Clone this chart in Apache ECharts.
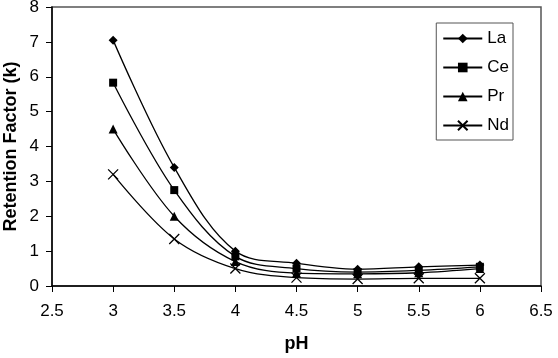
<!DOCTYPE html>
<html>
<head>
<meta charset="utf-8">
<script src="https://cdn.jsdelivr.net/npm/echarts@6/dist/echarts.min.js"></script>
<style>
html,body{margin:0;padding:0;background:#fff;}
#chart{width:558px;height:358px;}
</style>
</head>
<body>
<div id="chart"></div>
<script>
// data
var phValues = [3, 3.5, 4, 4.5, 5, 5.5, 6];
var seriesNames = ['La', 'Ce', 'Pr', 'Nd'];
var laValues = [7.05, 3.4, 1.0, 0.65, 0.48, 0.55, 0.6];
var ceValues = [5.83, 2.75, 0.85, 0.5, 0.4, 0.45, 0.55];
var prValues = [4.5, 2.0, 0.7, 0.37, 0.35, 0.38, 0.5];
var ndValues = [3.2, 1.35, 0.5, 0.24, 0.2, 0.22, 0.22];

var allValues = [laValues, ceValues, prValues, ndValues];
var symbols = ['diamond', 'rect', 'triangle', 'path://M0,0L10,10M10,0L0,10'];
var symbolSizes = [9, 8, 9, 10];

var chart = echarts.init(document.getElementById('chart'));

var series = [];
for (var i = 0; i < seriesNames.length; i++) {
	var pts = [];
	for (var j = 0; j < phValues.length; j++) {
		pts.push([phValues[j], allValues[i][j]]);
	}
	var isCross = i == 3;
	series.push({
		name: seriesNames[i],
		type: 'line',
		smooth: 0.35,
		data: pts,
		symbol: symbols[i],
		symbolSize: symbolSizes[i],
		showAllSymbol: true,
		lineStyle: {color: '#000', width: 1.3},
		itemStyle: isCross ? {color: 'none', borderColor: '#000', borderWidth: 1.3} : {color: '#000', borderColor: '#000', borderWidth: 0},
		emphasis: {disabled: true}
	});
}

var option = {
	animation: false,
	textStyle: {fontFamily: 'Liberation Sans, Arial, sans-serif'},
	grid: {
		show: true,
		left: 52,
		right: 17,
		top: 7,
		bottom: 72,
		containLabel: false,
		outerBoundsMode: 'none',
		borderColor: '#555',
		borderWidth: 1.5
	},
	legend: {
		orient: 'vertical',
		right: 45,
		top: 23,
		itemGap: 12,
		itemWidth: 39,
		itemHeight: 12,
		padding: [7, 4, 6, 6],
		borderColor: '#555',
		borderWidth: 1,
		textStyle: {color: '#000', fontSize: 17, padding: [0, 0, 0, 0]},
		data: seriesNames
	},
	xAxis: {
		type: 'value',
		min: 2.5,
		max: 6.5,
		interval: 0.5,
		name: 'pH',
		nameLocation: 'middle',
		nameGap: 49,
		nameMoveOverlap: false,
		nameTextStyle: {color: '#000', fontSize: 18, fontWeight: 'bold'},
		axisLine: {lineStyle: {color: '#000', width: 1.5}},
		axisTick: {show: true, length: 6, lineStyle: {color: '#000'}},
		axisLabel: {color: '#000', fontSize: 17, margin: 17},
		splitLine: {show: false}
	},
	yAxis: {
		type: 'value',
		min: 0,
		max: 8,
		interval: 1,
		name: 'Retention Factor (k)',
		nameLocation: 'middle',
		nameGap: 32,
		nameMoveOverlap: false,
		nameTextStyle: {color: '#000', fontSize: 18, fontWeight: 'bold'},
		axisLine: {show: true, lineStyle: {color: '#000', width: 1.5}},
		axisTick: {show: true, length: 6, lineStyle: {color: '#000'}},
		axisLabel: {color: '#000', fontSize: 17, margin: 13},
		splitLine: {show: false}
	},
	series: series
};
chart.setOption(option);
</script>
</body>
</html>
